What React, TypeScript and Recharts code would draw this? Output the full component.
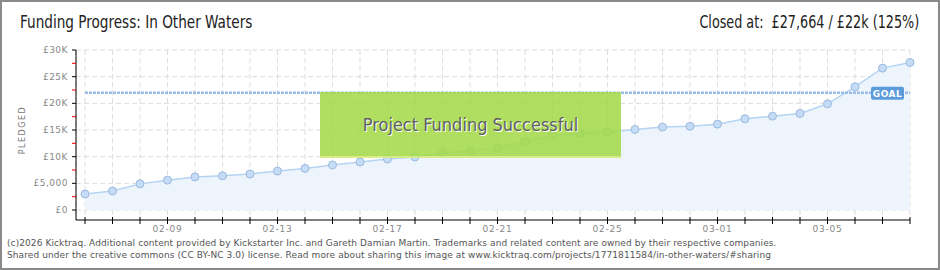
import React from "react";
import { AreaChart, Area, XAxis, YAxis, CartesianGrid, ReferenceLine } from "recharts";

const dates = [
  "02-06", "02-07", "02-08", "02-09", "02-10", "02-11", "02-12", "02-13", "02-14", "02-15", "02-16",
  "02-17", "02-18", "02-19", "02-20", "02-21", "02-22", "02-23", "02-24", "02-25", "02-26", "02-27",
  "02-28", "03-01", "03-02", "03-03", "03-04", "03-05", "03-06", "03-07", "03-08",
];
const pledged = [
  3000, 3560, 4900, 5600, 6200, 6400, 6750, 7300, 7800, 8450, 9000,
  9560, 9950, 10700, 11050, 11600, 12750, 14000, 14400, 14600, 15100, 15550,
  15700, 16100, 17100, 17600, 18100, 19900, 23100, 26600, 27664,
];
const xLabels = ["02-09", "02-13", "02-17", "02-21", "02-25", "03-01", "03-05"];
const yTicks = [0, 2500, 5000, 7500, 10000, 12500, 15000, 17500, 20000, 22500, 25000, 27500, 30000];
const yMajor = [0, 5000, 10000, 15000, 20000, 25000, 30000];
const yLabels = ["£0", "£5,000", "£10K", "£15K", "£20K", "£25K", "£30K"];
const goal = 22000;

const data = dates.map((date, i) => ({ date, pledged: pledged[i] }));

const tickFont = "'DejaVu Sans', sans-serif";
const titleFont = "'DejaVu Sans Condensed', 'DejaVu Sans', sans-serif";

function XTick(props: any) {
  const { x, y, payload } = props;
  const show = xLabels.includes(payload.value);
  return (
    <g>
      <line x1={x} x2={x} y1={y - 3} y2={y + 4} stroke="#000" strokeWidth={1} />
      {show && (
        <text x={x} y={y + 12} textAnchor="middle" fontFamily={tickFont} fontSize={9} fill="#888" letterSpacing={0.8}>
          {payload.value}
        </text>
      )}
    </g>
  );
}

function YTick(props: any) {
  const { x, y, payload } = props;
  const idx = yMajor.indexOf(payload.value);
  const major = idx >= 0;
  return (
    <g>
      <line x1={x - 4} x2={x} y1={y} y2={y} stroke={major ? "#000" : "#e00"} strokeWidth={1} />
      {major && (
        <text x={x - 8} y={y + 3} textAnchor="end" fontFamily={tickFont} fontSize={9} fill="#888" letterSpacing={0.5}>
          {yLabels[idx]}
        </text>
      )}
    </g>
  );
}

function GoalLabel(props: any) {
  const { viewBox } = props;
  const right = viewBox.x + viewBox.width;
  return (
    <g>
      <rect x={right - 39} y={viewBox.y - 6} width={33} height={13} rx={2} fill="#5b9bdc" />
      <text x={right - 22.5} y={viewBox.y + 4} textAnchor="middle" fontFamily={tickFont} fontSize={9} fontWeight="bold" fill="#fff" letterSpacing={0.5}>
        GOAL
      </text>
    </g>
  );
}

export default function App() {
  return (
    <div style={{ position: "absolute", left: 0, top: 0, width: 940, height: 270, background: "#fff", overflow: "hidden" }}>
      <AreaChart width={940} height={270} data={data} margin={{ top: 50, right: 30, bottom: 30, left: 0 }}>
        <CartesianGrid stroke="#dddddd" strokeDasharray="5 3" horizontalValues={yMajor} />
        <XAxis
          dataKey="date"
          interval={0}
          height={20}
          padding={{ left: 9, right: 0 }}
          tickSize={0}
          tickMargin={0}
          tickLine={false}
          axisLine={{ stroke: "#000" }}
          tick={<XTick />}
        />
        <YAxis
          width={76}
          domain={[0, 30000]}
          ticks={yTicks}
          interval={0}
          padding={{ top: 0, bottom: 10 }}
          tickSize={0}
          tickMargin={0}
          tickLine={false}
          axisLine={{ stroke: "#000" }}
          tick={<YTick />}
        />
        <Area
          type="linear"
          dataKey="pledged"
          stroke="#b5d4f4"
          strokeWidth={1.5}
          fill="#edf4fc"
          fillOpacity={1}
          dot={{ r: 4, fill: "#c5dcf6", stroke: "#9cb9dd", strokeWidth: 1 }}
          isAnimationActive={false}
        />
        <ReferenceLine
          segment={[{ x: dates[0], y: goal }, { x: dates[dates.length - 1], y: goal }]}
          stroke="#9bbce6"
          strokeWidth={2.5}
          strokeDasharray="3 1"
          label={<GoalLabel />}
        />
      </AreaChart>

      <div
        style={{
          position: "absolute", left: 20, top: 12, fontFamily: titleFont, fontSize: 17, color: "#222",
          transform: "scaleX(0.89)", transformOrigin: "left top", whiteSpace: "nowrap",
        }}
      >
        Funding Progress: In Other Waters
      </div>
      <div
        style={{
          position: "absolute", right: 21, top: 12, fontFamily: titleFont, fontSize: 17, color: "#222",
          transform: "scaleX(0.835)", transformOrigin: "right top", whiteSpace: "nowrap",
        }}
      >
        Closed at:&nbsp; £27,664 / £22k (125%)
      </div>
      <div
        style={{
          position: "absolute", left: 22, top: 130, transform: "translate(-50%, -50%) rotate(-90deg)",
          fontFamily: tickFont, fontSize: 8, color: "#777", letterSpacing: 1.5, whiteSpace: "nowrap",
        }}
      >
        PLEDGED
      </div>
      <div
        style={{
          position: "absolute", left: 320, top: 92, width: 301, height: 66, background: "#a4da4b", opacity: 0.88,
          borderBottom: "2px solid #d6ec7a", boxSizing: "border-box",
          display: "flex", alignItems: "center", justifyContent: "center",
          fontFamily: titleFont, fontSize: 18, color: "#4a4a4a", textShadow: "1px 1px 0 #fff",
        }}
      >
        Project Funding Successful
      </div>
      <div
        style={{
          position: "absolute", left: 7, top: 237, fontFamily: tickFont, fontSize: 9, lineHeight: "12px",
          color: "#555", whiteSpace: "nowrap", letterSpacing: 0.09,
        }}
      >
        (c)2026 Kicktraq. Additional content provided by Kickstarter Inc. and Gareth Damian Martin. Trademarks and related content are owned by their respective companies.
        <br />
        Shared under the creative commons (CC BY-NC 3.0) license. Read more about sharing this image at www.kicktraq.com/projects/1771811584/in-other-waters/#sharing
      </div>
      <div style={{ position: "absolute", left: 0, top: 0, width: 940, height: 270, border: "2px solid #8a8a8a", boxSizing: "border-box", pointerEvents: "none" }} />
    </div>
  );
}
